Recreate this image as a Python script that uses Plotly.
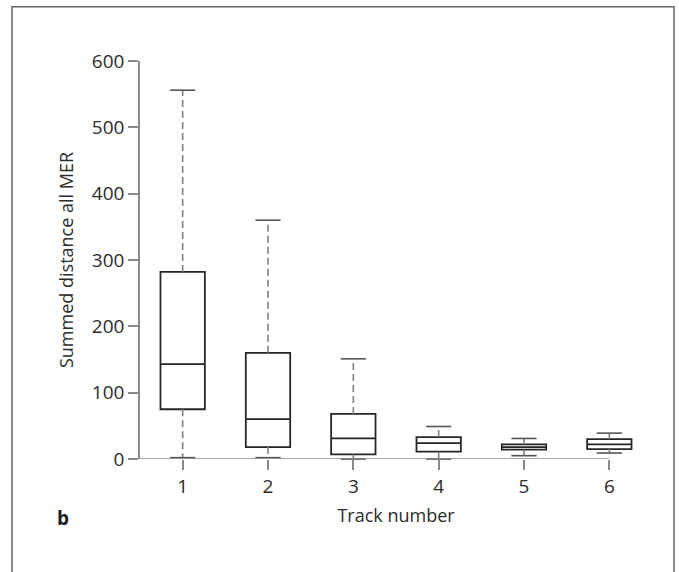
import plotly.graph_objects as go

# ---- data ----
tracks = [1, 2, 3, 4, 5, 6]
tick_labels = ["1", "2", "3", "4", "5", "6"]
q1 = [75, 18, 7, 11, 14, 15]
median = [143, 60, 31, 24, 18, 22]
q3 = [282, 160, 68, 33, 22, 30]
whisker_low = [2, 2, 0, 0, 5, 9]
whisker_high = [556, 360, 151, 49, 31, 39]
y_ticks = [0, 100, 200, 300, 400, 500, 600]

FONT = "Open Sans"
AXIS_GREY = "#8a8a8a"
TEXT = "#2b2b2b"

fig = go.Figure()

# dashed whiskers
wx, wy = [], []
for t, lo, a, b, hi in zip(tracks, whisker_low, q1, q3, whisker_high):
    wx += [t, t, None, t, t, None]
    wy += [b, hi, None, a, lo, None]
fig.add_trace(go.Scatter(x=wx, y=wy, mode="lines", cliponaxis=False,
                         line=dict(color="#808080", width=1.6, dash="7px,4px"),
                         hoverinfo="skip", showlegend=False))

# boxes
fig.add_trace(go.Box(x=tracks, q1=q1, median=median, q3=q3,
                     lowerfence=q1, upperfence=q3,
                     width=0.52, whiskerwidth=0, boxpoints=False,
                     fillcolor="white",
                     line=dict(color="#262626", width=1.8),
                     showlegend=False))

# whisker caps
fig.add_trace(go.Scatter(x=tracks + tracks, y=whisker_high + whisker_low,
                         mode="markers", cliponaxis=False,
                         marker=dict(symbol="line-ew", size=18,
                                     line=dict(color="#555555", width=1.6)),
                         hoverinfo="skip", showlegend=False))

fig.update_layout(
    width=679, height=572,
    margin=dict(l=140, r=27, t=61, b=113),
    paper_bgcolor="white", plot_bgcolor="white",
    font=dict(family=FONT, size=18, color=TEXT),
    xaxis=dict(range=[0.5, 6.5], tickvals=tracks, ticktext=tick_labels,
               showline=False, showgrid=False, zeroline=False,
               ticks="outside", ticklen=10, tickwidth=1.5, tickcolor=AXIS_GREY,
               tickfont=dict(family=FONT, size=19, color=TEXT),
               title=dict(text="Track number", standoff=11,
                          font=dict(family=FONT, size=18, color=TEXT))),
    yaxis=dict(range=[0, 600], tickvals=y_ticks,
               showline=True, linecolor=AXIS_GREY, linewidth=1.5,
               showgrid=False, zeroline=False,
               ticks="outside", ticklen=10, tickwidth=1.5, tickcolor=AXIS_GREY,
               tickfont=dict(family=FONT, size=19, color=TEXT),
               title=dict(text="Summed distance all MER", standoff=14,
                          font=dict(family=FONT, size=18, color=TEXT))),
    shapes=[
        # x-axis line ending at the last category
        dict(type="line", xref="x", yref="y", x0=0.5, x1=tracks[-1], y0=0, y1=0,
             line=dict(color=AXIS_GREY, width=1.5), layer="above"),
        # outer frame
        dict(type="rect", xref="paper", yref="paper",
             x0=-0.25, x1=1.043, y0=-0.34, y1=1.136,
             line=dict(color="#666666", width=1.5)),
    ],
    annotations=[
        dict(text="<b>b</b>", xref="paper", yref="paper", x=-0.15, y=-0.148,
             xanchor="center", yanchor="middle",
             showarrow=False, font=dict(family=FONT, size=19, color="#1e1e1e")),
    ],
)

fig.write_html("out.html",
               config={"displayModeBar": False},
               post_script="document.body.style.margin='0';"
                           "document.body.style.overflow='hidden';")
